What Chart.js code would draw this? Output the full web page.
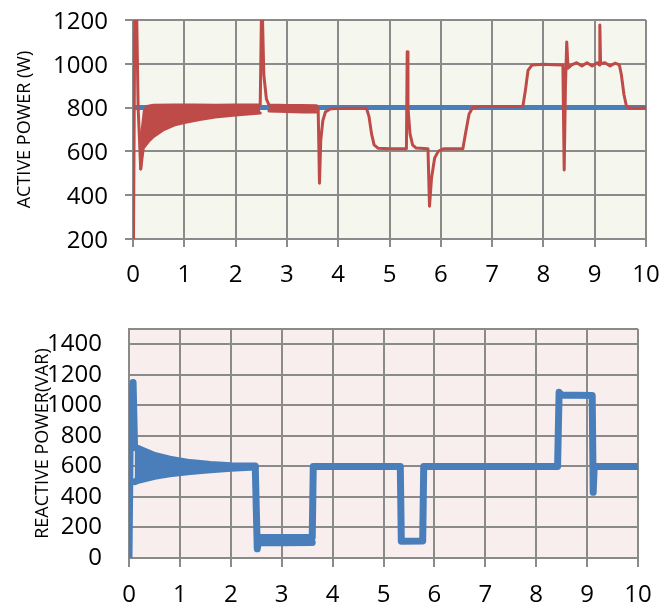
<!DOCTYPE html>
<html lang="en">
<head>
    <meta charset="UTF-8">
    <title>Active / Reactive power</title>
    <style>
        body { margin: 0; padding: 0; background: #ffffff; }
        #topBox { position: absolute; left: 0; top: 0; width: 662px; height: 290px; }
        #bottomBox { position: absolute; left: 0; top: 290px; width: 662px; height: 316px; }
    </style>
    <script src="https://cdn.jsdelivr.net/npm/chart.js"></script>
</head>
<body>
    <div id="topBox"><canvas id="activeChart" width="662" height="290"></canvas></div>
    <div id="bottomBox"><canvas id="reactiveChart" width="662" height="316"></canvas></div>
    <script>
        // axis ticks
        const timeTicks = [0, 1, 2, 3, 4, 5, 6, 7, 8, 9, 10];
        const activeTicks = [200, 400, 600, 800, 1000, 1200];
        const reactiveTicks = [0, 200, 400, 600, 800, 1000, 1200, 1400];

        // active power reference (blue)
        const refTime = [0, 10];
        const refPower = [800, 800];

        // active power measured (red), upper edge where it oscillates
        const activeTime = [
            0, 0.01, 0.035, 0.07, 0.10, 0.15, 0.18, 0.22, 0.27, 0.4,
            0.8, 1.2, 1.6, 2.0, 2.48, 2.505, 2.52, 2.55, 2.6, 2.65,
            3.0, 3.3, 3.58, 3.61, 3.635, 3.66, 3.7, 3.75, 3.85, 4.2,
            4.55, 4.6, 4.65, 4.7, 4.78, 5.0, 5.33, 5.345, 5.36, 5.4,
            5.45, 5.52, 5.75, 5.78, 5.82, 5.88, 5.95, 6.05, 6.43, 6.48,
            6.55, 6.62, 6.75, 7.2, 7.6, 7.65, 7.7, 7.78, 8.0, 8.2,
            8.38, 8.405, 8.43, 8.455, 8.48, 8.55, 8.65, 8.75, 8.85, 8.95,
            9.05, 9.09, 9.1, 9.115, 9.2, 9.3, 9.4, 9.48, 9.52, 9.57,
            9.62, 9.7, 10
        ];
        const activePower = [
            780, 200, 1250, 1250, 800, 520, 700, 785, 805, 811,
            812, 812, 811, 812, 812, 1250, 1250, 950, 840, 812,
            810, 810, 808, 790, 455, 650, 740, 780, 795, 797,
            797, 760, 680, 630, 614, 612, 612, 1055, 800, 680,
            630, 615, 612, 350, 480, 570, 600, 612, 612, 680,
            770, 800, 805, 805, 806, 880, 970, 995, 998, 996,
            995, 515, 900, 1100, 980, 995, 1005, 990, 1005, 990,
            1005, 995, 1177, 1000, 1005, 990, 1003, 995, 950, 860,
            805, 797, 798
        ];
        // lower edges of the oscillating bands
        const activeBand1Time = [0.15, 0.2, 0.3, 0.4, 0.6, 0.8, 1.0, 1.3, 1.6, 2.0, 2.48];
        const activeBand1Low = [520, 615, 645, 668, 700, 720, 732, 745, 757, 766, 775];
        const activeBand2Time = [2.65, 3.0, 3.3, 3.58];
        const activeBand2Low = [785, 782, 780, 780];

        // reactive power (blue), upper edge where it oscillates
        const reactiveTime = [
            0, 0.03, 0.08, 0.11, 0.2, 0.5, 0.8, 1.2, 1.6, 2.0,
            2.48, 2.52, 2.56, 3.0, 3.6, 3.62, 4.5, 5.33, 5.35, 5.77,
            5.79, 7.0, 8.42, 8.45, 8.5, 9.1, 9.12, 9.14, 10
        ];
        const reactivePower = [
            0, 1000, 1150, 725, 715, 672, 647, 625, 612, 605,
            602, 60, 135, 135, 135, 600, 600, 600, 110, 112,
            600, 600, 600, 1085, 1068, 1065, 430, 600, 600
        ];
        const reactiveBand1Time = [0.11, 0.2, 0.5, 0.8, 1.2, 1.6, 2.0, 2.48];
        const reactiveBand1Low = [500, 511, 535, 552, 566, 578, 588, 596];
        const reactiveBand2Time = [2.56, 3.0, 3.6];
        const reactiveBand2Low = [100, 100, 102];

        const RED = '#be4b48';
        const BLUE = '#4a7ebb';
        const GRID = '#8a8a8a';

        Chart.defaults.font.family = "'Open Sans', sans-serif";
        Chart.defaults.font.size = 24;
        Chart.defaults.color = '#000000';

        function pts(xs, ys) {
            return xs.map((x, i) => ({ x: x, y: ys[i] }));
        }

        // paints the plot area
        const plotBg = {
            id: 'plotBg',
            beforeDraw(chart, args, opts) {
                const a = chart.chartArea;
                const ctx = chart.ctx;
                ctx.save();
                ctx.fillStyle = opts.color;
                ctx.fillRect(a.left, a.top, a.right - a.left, a.bottom - a.top);
                ctx.restore();
            }
        };

        function lineSet(data, color, width, extra) {
            return Object.assign({
                data: data,
                borderColor: color,
                backgroundColor: color,
                borderWidth: width,
                pointRadius: 0,
                fill: false,
                borderJoinStyle: 'round',
                borderCapStyle: 'round'
            }, extra || {});
        }

        // fixed box size, no extra label overhang padding
        function fixBox(s, w, h) {
            if (w) s.width = w;
            if (h) s.height = h;
            s.paddingTop = 0;
            s.paddingBottom = 0;
            s.paddingLeft = 0;
            s.paddingRight = 0;
        }

        function xScale(height, tickLen) {
            return {
                type: 'linear',
                min: 0,
                max: 10,
                afterBuildTicks: s => { s.ticks = timeTicks.map(v => ({ value: v })); },
                afterFit: s => fixBox(s, 0, height),
                ticks: { padding: 14, maxRotation: 0, autoSkip: false, callback: v => String(v) },
                grid: { color: GRID, lineWidth: 2, tickLength: tickLen, drawTicks: true },
                border: { color: GRID, width: 2 }
            };
        }

        // top chart: active power
        new Chart(document.getElementById('activeChart'), {
            type: 'line',
            data: {
                datasets: [
                    lineSet(pts(activeTime, activePower), RED, 3, { order: 0 }),
                    lineSet(pts(activeBand1Time, activeBand1Low), RED, 3, { order: 1, fill: 0 }),
                    lineSet(pts(activeBand2Time, activeBand2Low), RED, 3, { order: 1, fill: 0 }),
                    lineSet(pts(refTime, refPower), BLUE, 5, { order: 5, borderCapStyle: 'butt' })
                ]
            },
            options: {
                responsive: false,
                animation: false,
                layout: { padding: { left: 0, right: 16, top: 20, bottom: 0 } },
                plugins: {
                    legend: { display: false },
                    tooltip: { enabled: false },
                    plotBg: { color: '#f5f6ee' }
                },
                scales: {
                    x: xScale(51, 8),
                    y: {
                        min: 200,
                        max: 1200,
                        afterBuildTicks: s => { s.ticks = activeTicks.map(v => ({ value: v })); },
                        afterFit: s => fixBox(s, 133, 0),
                        ticks: { padding: 17, labelOffset: 2, autoSkip: false, callback: v => String(v) },
                        grid: { color: GRID, lineWidth: 2, tickLength: 8 },
                        border: { color: GRID, width: 2 },
                        title: {
                            display: true,
                            text: 'ACTIVE POWER (W)',
                            font: { size: 18 },
                            padding: { top: 14, bottom: 0 }
                        }
                    }
                }
            },
            plugins: [plotBg]
        });

        // bottom chart: reactive power
        new Chart(document.getElementById('reactiveChart'), {
            type: 'line',
            data: {
                datasets: [
                    lineSet(pts(reactiveTime, reactivePower), BLUE, 7, { order: 0 }),
                    lineSet(pts(reactiveBand1Time, reactiveBand1Low), BLUE, 7, { order: 1, fill: 0 }),
                    lineSet(pts(reactiveBand2Time, reactiveBand2Low), BLUE, 7, { order: 1, fill: 0 })
                ]
            },
            options: {
                responsive: false,
                animation: false,
                layout: { padding: { left: 0, right: 24, top: 39, bottom: 0 } },
                plugins: {
                    legend: { display: false },
                    tooltip: { enabled: false },
                    plotBg: { color: '#f8eeee' }
                },
                scales: {
                    x: xScale(48, 9),
                    y: {
                        min: 0,
                        max: 1500,
                        afterBuildTicks: s => {
                            s.ticks = reactiveTicks.map(v => ({ value: v })).concat([{ value: 1500 }]);
                        },
                        afterFit: s => fixBox(s, 129, 0),
                        ticks: {
                            padding: 27,
                            autoSkip: false,
                            callback: v => (v > 1400 ? '' : String(v))
                        },
                        grid: { color: GRID, lineWidth: 2, drawTicks: false },
                        border: { color: GRID, width: 2 },
                        title: {
                            display: true,
                            text: 'REACTIVE POWER(VAR)',
                            font: { size: 18 },
                            padding: { top: 32, bottom: 0 }
                        }
                    }
                }
            },
            plugins: [plotBg]
        });
    </script>
</body>
</html>
